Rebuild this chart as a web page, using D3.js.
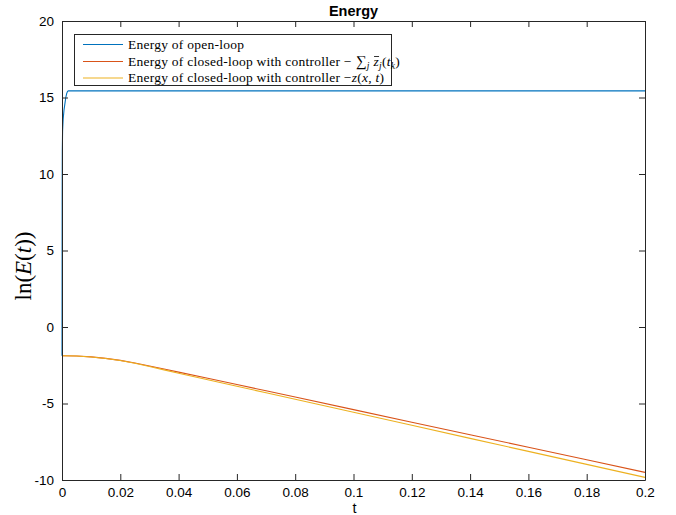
<!DOCTYPE html>
<html><head><meta charset="utf-8">
<script src="https://cdn.jsdelivr.net/npm/d3@7"></script>
<style>body{margin:0;background:#fff}svg{display:block}</style>
</head><body>
<svg id="c" width="676" height="515"></svg>
<script>
const xTicks = [0,0.02,0.04,0.06,0.08,0.1,0.12,0.14,0.16,0.18,0.2];
const xTickLabels = ["0","0.02","0.04","0.06","0.08","0.1","0.12","0.14","0.16","0.18","0.2"];
const yTicks = [-10,-5,0,5,10,15,20];
const yTickLabels = ["-10","-5","0","5","10","15","20"];

const openT = [0,0.00005,0.0001,0.0002,0.0004,0.0007,0.001,0.0013,0.0016,0.0019,0.0022,0.2];
const openE = [-1.88,8.0,11.5,12.8,13.6,14.2,14.6,15.0,15.25,15.4,15.43,15.43];

const closedT = [0,0.005,0.01,0.015,0.02,0.025,0.03,0.035,0.04,0.05,0.06,0.07,0.08,0.1,0.12,0.14,0.16,0.18,0.2];
const closedSumE = [-1.88,-1.90,-1.95,-2.05,-2.18,-2.35,-2.55,-2.75,-2.95,-3.35,-3.76,-4.17,-4.58,-5.40,-6.22,-7.04,-7.86,-8.68,-9.50];
const closedZE = [-1.88,-1.90,-1.96,-2.06,-2.19,-2.37,-2.58,-2.80,-3.02,-3.45,-3.87,-4.30,-4.72,-5.57,-6.42,-7.28,-8.13,-8.98,-9.83];

const colors = ["#0072BD","#D95319","#EDB120"];

const svg = d3.select("#c");
const L=62, R=645, T=21, B=480;
const x = d3.scaleLinear().domain([0,0.2]).range([L,R]);
const y = d3.scaleLinear().domain([-10,20]).range([B,T]);
const axCol = "#262626";
const tickFont = "Liberation Sans, Arial, Helvetica, sans-serif";

svg.append("rect").attr("x",L).attr("y",T).attr("width",R-L).attr("height",B-T).attr("fill","#fff");

const line = d3.line().x(d=>x(d[0])).y(d=>y(d[1]));
const series = [
  d3.zip(openT, openE),
  d3.zip(closedT, closedSumE),
  d3.zip(closedT, closedZE)
];
const g = svg.append("g");
series.forEach((s,i)=>{
  g.append("path").datum(s).attr("d",line).attr("fill","none")
   .attr("stroke",colors[i]).attr("stroke-width",1.1);
});

const axBottom = d3.axisBottom(x).tickValues(xTicks).tickFormat((d,i)=>xTickLabels[i]).tickSizeInner(-6).tickSizeOuter(0).tickPadding(7);
const axTop = d3.axisTop(x).tickValues(xTicks).tickFormat("").tickSizeInner(-6).tickSizeOuter(0);
const axLeft = d3.axisLeft(y).tickValues(yTicks).tickFormat((d,i)=>yTickLabels[i]).tickSizeInner(-6).tickSizeOuter(0).tickPadding(8);
const axRight = d3.axisRight(y).tickValues(yTicks).tickFormat("").tickSizeInner(-6).tickSizeOuter(0);

function style(sel){
  sel.selectAll("path").attr("stroke",axCol).attr("stroke-width",1);
  sel.selectAll("line").attr("stroke",axCol).attr("stroke-width",1);
  sel.selectAll("text").attr("fill","#000").style("font-family",tickFont).style("font-size","13.5px");
}
style(svg.append("g").attr("transform",`translate(0,${B})`).call(axBottom));
style(svg.append("g").attr("transform",`translate(0,${T})`).call(axTop));
style(svg.append("g").attr("transform",`translate(${L},0)`).call(axLeft));
style(svg.append("g").attr("transform",`translate(${R},0)`).call(axRight));

svg.append("text").attr("x",(L+R)/2).attr("y",16).attr("text-anchor","middle")
  .style("font-family",tickFont).style("font-weight","bold").style("font-size","14.5px").text("Energy");
svg.append("text").attr("x",(L+R)/2+1).attr("y",513).attr("text-anchor","middle")
  .style("font-family",tickFont).style("font-size","14.5px").text("t");
const yl = svg.append("text").attr("transform",`translate(31,266) rotate(-90)`).attr("text-anchor","middle")
  .style("font-family","Liberation Serif, DejaVu Serif, serif").style("font-size","23px");
yl.append("tspan").text("ln(");
yl.append("tspan").style("font-style","italic").text("E");
yl.append("tspan").text("(");
yl.append("tspan").style("font-style","italic").text("t");
yl.append("tspan").text("))");

const lx=74.5, ly=34.5, lw=317, lh=51;
svg.append("rect").attr("x",lx).attr("y",ly).attr("width",lw).attr("height",lh)
  .attr("fill","#fff").attr("stroke",axCol).attr("stroke-width",1);
const serif = "Liberation Serif, DejaVu Serif, serif";
const rows = [44.5,61.5,78];
rows.forEach((ry,i)=>{
  svg.append("line").attr("x1",83).attr("x2",123).attr("y1",ry).attr("y2",ry)
    .attr("stroke",colors[i]).attr("stroke-width",1.1);
});
function txt(i){
  return svg.append("text").attr("x",128).attr("y",rows[i]+4)
    .style("font-family",serif).style("font-size","13.5px").style("letter-spacing","0.25px").attr("fill","#000");
}
txt(0).text("Energy of open-loop");
const t1 = txt(1);
t1.append("tspan").text("Energy of closed-loop with controller \u2212");
t1.append("tspan").attr("dx","4").style("font-size","15px").text("\u2211");
t1.append("tspan").attr("dy","3").style("font-size","9.5px").style("font-style","italic").text("j");
t1.append("tspan").attr("dy","-3").attr("dx","4").style("font-style","italic").text("z");
t1.append("tspan").attr("dy","3").style("font-size","9.5px").style("font-style","italic").text("j");
t1.append("tspan").attr("dy","-3").text("(");
t1.append("tspan").style("font-style","italic").text("t");
t1.append("tspan").attr("dy","3").style("font-size","9.5px").style("font-style","italic").text("k");
t1.append("tspan").attr("dy","-3").text(")");
try{
  const n = t1.node();
  const idx = n.textContent.indexOf("z");
  const ext = n.getExtentOfChar(idx);
  svg.append("line").attr("x1",ext.x+0.5).attr("x2",ext.x+ext.width)
    .attr("y1",ext.y+3).attr("y2",ext.y+3).attr("stroke","#000").attr("stroke-width",0.8);
}catch(e){}
const t2 = txt(2);
t2.append("tspan").text("Energy of closed-loop with controller \u2212");
t2.append("tspan").style("font-style","italic").text("z");
t2.append("tspan").text("(");
t2.append("tspan").style("font-style","italic").text("x");
t2.append("tspan").text(", ");
t2.append("tspan").style("font-style","italic").text("t");
t2.append("tspan").text(")");
</script>
</body></html>
